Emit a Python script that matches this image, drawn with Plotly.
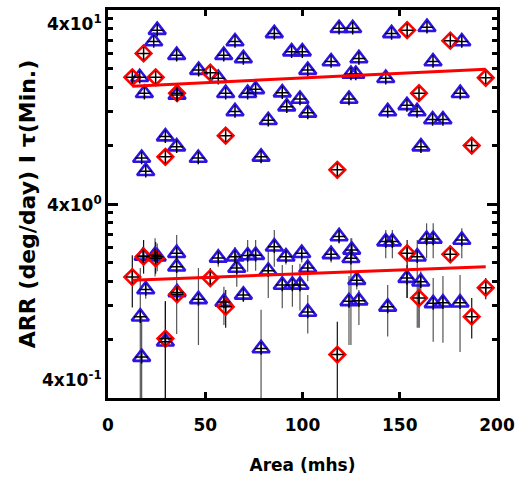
import math
import plotly.graph_objects as go

# ---- data ----
# Upper group: tau (Min.) vs Area, blue triangles
tau_tri_area = [25.3, 23.5, 35.3, 16.3, 18.7, 35.5, 46.6, 56.7, 60.5, 59.5, 65.3, 65.3, 29.5, 35.3,
                17.3, 19.4, 46.4, 85.5, 69.6, 94.4, 99.9, 102.7, 118.8, 125.8, 114.7, 129.0, 124.9,
                127.4, 75.9, 71.8, 89.6, 91.9, 98.7, 102.7, 82.4, 123.9, 78.7, 145.8, 164.0, 181.9,
                167.1, 142.8, 181.1, 153.7, 143.8, 158.9, 166.9, 172.2, 160.9]
tau_tri = [31.5, 27.5, 23.4, 18.0, 14.9, 14.6, 19.6, 17.8, 14.9, 23.4, 27.5, 12.0, 8.9, 7.9,
           6.9, 5.9, 6.9, 30.3, 22.5, 24.4, 24.4, 19.6, 32.2, 32.2, 21.7, 22.5, 18.7,
           18.7, 15.6, 14.9, 15.0, 12.7, 13.9, 11.8, 10.8, 13.9, 7.0, 30.3, 32.6, 27.5,
           21.7, 17.8, 14.9, 12.9, 12.0, 12.0, 10.9, 10.9, 7.9]

# Lower group: ARR (deg/day) vs Area, blue triangles with error bars
arr_tri_area = [16.6, 17.3, 19.4, 18.1, 24.2, 25.3, 35.3, 35.3, 35.5, 29.5, 46.5, 56.7, 59.6, 65.3,
                66.2, 71.8, 75.9, 85.5, 82.4, 69.6, 91.5, 89.6, 94.8, 98.7, 99.6, 102.7, 102.7,
                78.7, 118.8, 114.7, 125.3, 124.9, 127.9, 123.9, 129.0, 142.8, 146.2, 159.0, 163.8,
                167.2, 181.9, 153.7, 160.8, 143.8, 167.2, 172.2, 181.0]
arr_tri = [1.05, 0.65, 1.45, 2.16, 2.18, 2.14, 2.23, 1.90, 1.40, 0.78, 1.29, 2.11, 1.25, 2.14,
           1.87, 2.17, 2.18, 2.41, 1.81, 1.36, 2.14, 1.53, 1.53, 1.53, 2.23, 1.87, 1.11,
           0.72, 2.72, 2.20, 2.32, 2.10, 1.62, 1.26, 1.27, 2.56, 2.56, 2.14, 2.64,
           2.64, 2.61, 1.66, 1.59, 1.18, 1.23, 1.24, 1.24]
arr_tri_lo = [0.30, 0.30, 1.30, 1.90, 1.69, 1.80, 2.00, 0.855, 1.30, 0.30, 0.75, 1.90, 0.95, 1.90,
              1.50, 1.79, 1.81, 1.90, 1.31, 1.25, 1.95, 1.16, 1.18, 1.13, 2.00, 1.60, 0.86,
              0.30, 2.50, 2.00, 2.10, 0.75, 1.45, 0.75, 0.95, 2.10, 2.10, 0.92, 2.10,
              2.10, 2.10, 1.31, 1.40, 0.83, 0.78, 0.77, 0.69]
arr_tri_hi = [1.87, 1.05, 1.60, 2.40, 2.66, 2.50, 2.50, 2.77, 1.50, 1.26, 1.87, 2.35, 1.50, 2.40,
              2.20, 2.61, 2.61, 2.94, 2.32, 1.48, 2.35, 1.94, 1.94, 1.97, 2.45, 2.10, 1.36,
              1.14, 2.95, 2.45, 2.66, 2.66, 1.80, 1.70, 1.44, 2.94, 2.94, 2.61, 3.18,
              3.18, 3.00, 1.94, 1.80, 1.53, 1.66, 1.70, 1.72]

# Red diamonds (same events in both groups)
dia_area = [12.5, 18.3, 24.5, 29.5, 35.5, 52.6, 60.5, 117.9, 153.8, 159.9, 176.0, 187.0, 194.2]
tau_dia = [18.0, 23.9, 18.0, 7.0, 14.9, 19.0, 9.0, 6.0, 31.5, 14.9, 27.8, 8.0, 17.9]
arr_dia = [1.68, 2.14, 2.10, 0.81, 1.37, 1.66, 1.18, 0.67, 2.23, 1.31, 2.20, 1.05, 1.48]
arr_dia_lo = [1.17, 1.75, 1.75, 0.30, 1.25, 1.49, 0.92, 0.30, 1.31, 0.92, 2.00, 0.81, 1.29]
arr_dia_hi = [2.18, 2.61, 2.55, 1.26, 1.50, 1.87, 1.44, 0.99, 2.61, 1.62, 2.45, 1.31, 1.66]

# Fit lines (end points)
fit_area = [12.5, 194.2]
tau_fit = [16.2, 19.8]
arr_fit = [1.62, 1.90]

# Axis ticks
x_ticks = [0, 50, 100, 150, 200]
y_ticks = [0.4, 4, 40]
y_ticktext = ["4x10<sup>-1</sup>", "4x10<sup>0</sup>", "4x10<sup>1</sup>"]
y_minor = [0.8, 1.2, 1.6, 2.0, 2.4, 2.8, 3.2, 3.6, 8, 12, 16, 20, 24, 28, 32, 36]

BLUE = "rgb(45,20,225)"
RED = "rgb(255,0,0)"
FONT = "DejaVu Sans"


def errs(y, lo, hi):
    return [h - v for v, h in zip(y, hi)], [v - l for v, l in zip(y, lo)]


fig = go.Figure()

up, dn = errs(arr_tri, arr_tri_lo, arr_tri_hi)
fig.add_trace(go.Scatter(x=arr_tri_area, y=arr_tri, mode="markers",
                         marker=dict(size=1, color="rgba(0,0,0,0)"),
                         error_y=dict(type="data", symmetric=False, array=up, arrayminus=dn,
                                      color="#555", thickness=1.2, width=0)))
up, dn = errs(arr_dia, arr_dia_lo, arr_dia_hi)
fig.add_trace(go.Scatter(x=dia_area, y=arr_dia, mode="markers",
                         marker=dict(size=1, color="rgba(0,0,0,0)"),
                         error_y=dict(type="data", symmetric=False, array=up, arrayminus=dn,
                                      color="#111", thickness=1.2, width=0)))

tri_marker = dict(symbol="triangle-up-open", size=15, color=BLUE, line=dict(width=2.6, color=BLUE))
dia_marker = dict(symbol="diamond-open", size=12, color=RED, line=dict(width=2.6, color=RED))
plus_marker = dict(symbol="cross-thin", size=9, line=dict(width=1.5, color="black"))

for xs, ys in [(tau_tri_area, tau_tri), (arr_tri_area, arr_tri)]:
    fig.add_trace(go.Scatter(x=xs, y=ys, mode="markers", marker=tri_marker))
for xs, ys in [(dia_area, tau_dia), (dia_area, arr_dia)]:
    fig.add_trace(go.Scatter(x=xs, y=ys, mode="markers", marker=dia_marker))
for xs, ys in [(tau_tri_area, tau_tri), (arr_tri_area, arr_tri),
               (dia_area, tau_dia), (dia_area, arr_dia)]:
    fig.add_trace(go.Scatter(x=xs, y=ys, mode="markers", marker=plus_marker))

for ys in [tau_fit, arr_fit]:
    fig.add_trace(go.Scatter(x=fit_area, y=ys, mode="lines", line=dict(color=RED, width=3)))

# y range with a hair of slack so the end labels stay inside it
y_lo = math.log10(min(y_ticks)) - 1e-6
y_hi = math.log10(max(y_ticks)) + 1e-6

# y tick labels as annotations (top label hangs below the top edge, bottom one sits above the bottom edge)
anchors = ["bottom", "middle", "top"]
shifts = [6, 0, 0]
for val, txt, anc, sh in zip(y_ticks, y_ticktext, anchors, shifts):
    fig.add_annotation(x=0, xref="paper", y=math.log10(val), yref="y", text=txt,
                       showarrow=False, xanchor="right", yanchor=anc, xshift=-4, yshift=sh,
                       font=dict(family=FONT, size=17, weight="bold", color="black"))

fig.update_layout(
    width=518, height=479,
    margin=dict(l=108, r=21, t=10, b=81),
    paper_bgcolor="white", plot_bgcolor="white",
    showlegend=False,
    font=dict(family=FONT, color="black", size=17, weight="bold"),
)
fig.update_xaxes(
    range=[0, 200], tickvals=x_ticks, ticktext=[str(v) for v in x_ticks],
    automargin=False,
    showgrid=False, zeroline=False, showline=True, linecolor="black", linewidth=3,
    mirror="ticks", ticks="inside", ticklen=6, tickwidth=3, tickcolor="black",
    ticklabelstandoff=10,
    tickfont=dict(family=FONT, size=17, weight="bold"),
    title=dict(text="Area (mhs)", font=dict(family=FONT, size=17, weight="bold"), standoff=25),
)
fig.update_yaxes(
    type="log", range=[y_lo, y_hi], tickvals=y_ticks, showticklabels=False,
    automargin=False,
    showgrid=False, zeroline=False, showline=True, linecolor="black", linewidth=3,
    mirror="ticks", ticks="inside", ticklen=10, tickwidth=3, tickcolor="black",
    minor=dict(tickvals=y_minor, ticks="inside", ticklen=5, tickwidth=3, tickcolor="black"),
    title=dict(text="ARR (deg/day) I τ(Min.)", font=dict(family=FONT, size=22, weight="bold"),
               standoff=64),
)

fig.write_html("out.html")
